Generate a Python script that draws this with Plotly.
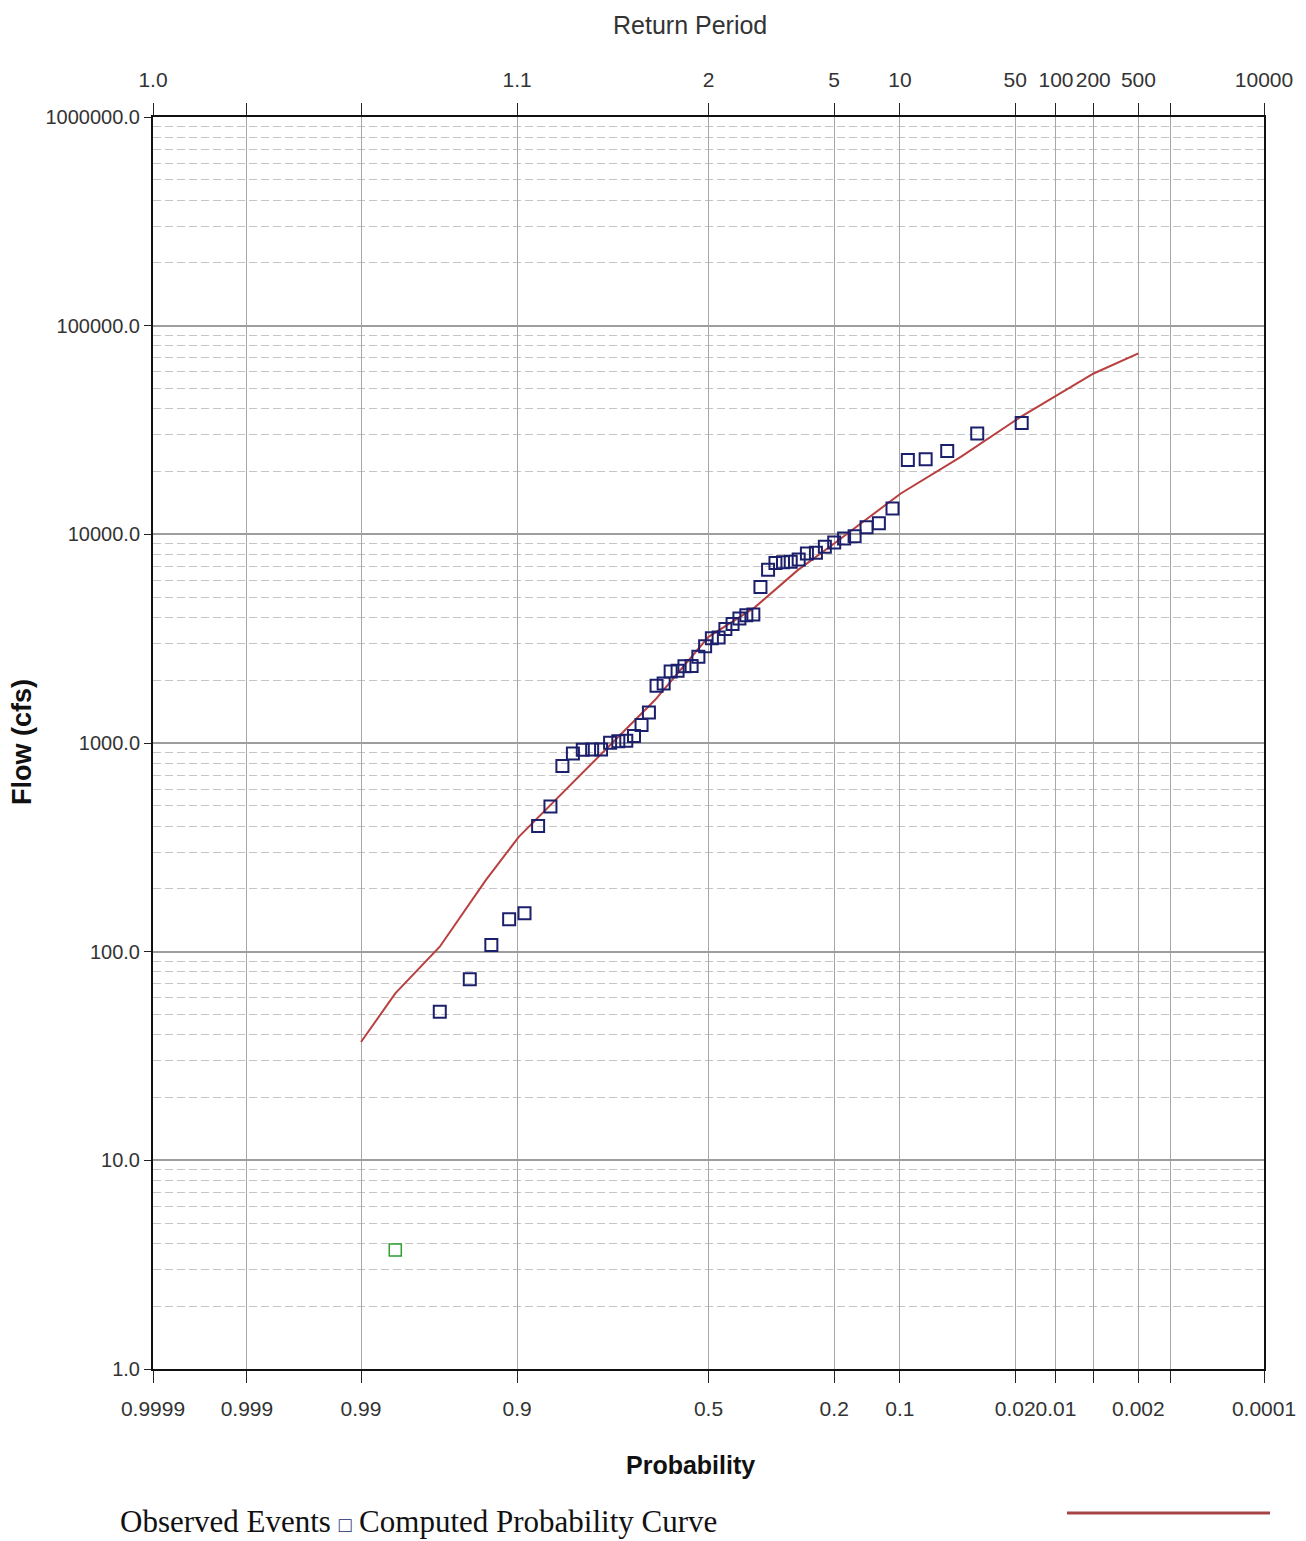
import plotly.graph_objects as go
from statistics import NormalDist

# ---------------- data ----------------
obs_prob = [0.018, 0.036, 0.055, 0.073, 0.091, 0.109, 0.127, 0.145, 0.164, 0.182,
            0.200, 0.218, 0.236, 0.255, 0.273, 0.291, 0.309, 0.327, 0.345, 0.364,
            0.382, 0.400, 0.418, 0.436, 0.455, 0.473, 0.491, 0.509, 0.527, 0.545,
            0.564, 0.582, 0.600, 0.618, 0.636, 0.655, 0.673, 0.691, 0.709, 0.727,
            0.745, 0.764, 0.782, 0.800, 0.818, 0.836, 0.855, 0.873, 0.891, 0.909,
            0.927, 0.945, 0.964]
obs_flow = [34200, 30400, 25100, 22900, 22700, 13300, 11300, 10800, 9800, 9550,
            9140, 8710, 8150, 8100, 7580, 7380, 7350, 7280, 6760, 5600,
            4130, 4100, 3950, 3715, 3515, 3200, 3180, 2910, 2590, 2340,
            2330, 2220, 2200, 1930, 1880, 1400, 1220, 1080, 1025, 1020,
            1002, 932, 930, 928, 891, 775, 496, 400, 153, 143,
            107.6, 73.7, 51.5]

low_prob = [0.982]
low_flow = [3.72]

curve_prob = [0.99, 0.982, 0.964, 0.932, 0.898, 0.837, 0.766, 0.640, 0.5, 0.379,
              0.275, 0.2, 0.099, 0.0456, 0.0183, 0.00496, 0.002]
curve_flow = [36.9, 63.1, 105.6, 220, 355, 573, 875, 1606, 3228, 4455,
              6737, 9040, 15700, 23500, 36560, 59000, 73600]

prob_ticks = [0.9999, 0.999, 0.99, 0.9, 0.5, 0.2, 0.1, 0.02, 0.01, 0.005, 0.002, 0.001, 0.0001]
prob_labels = ['0.9999', '0.999', '0.99', '0.9', '0.5', '0.2', '0.1', '0.02', '0.01', '', '0.002', '', '0.0001']
return_labels = ['1.0', '', '', '1.1', '2', '5', '10', '50', '100', '200', '500', '', '10000']

flow_ticks = [1, 10, 100, 1000, 10000, 100000, 1000000]
flow_labels = ['1.0', '10.0', '100.0', '1000.0', '10000.0', '100000.0', '1000000.0']
flow_minor = [m * d for d in [1, 10, 100, 1000, 10000, 100000] for m in range(2, 10)]

# ---------------- probability scale ----------------
nd = NormalDist()


def zpos(p):
    return nd.inv_cdf(1 - p)


xr = [zpos(0.9999), zpos(0.0001)]
NARROW = "Liberation Sans Narrow, Arial Narrow, Liberation Sans, sans-serif"

fig = go.Figure()

fig.add_trace(go.Scatter(
    x=[zpos(p) for p in curve_prob], y=curve_flow, mode='lines',
    line=dict(color='#b8403f', width=2),
    name='Computed Probability Curve', hoverinfo='skip'))

fig.add_trace(go.Scatter(
    x=[zpos(p) for p in obs_prob], y=obs_flow, mode='markers',
    marker=dict(symbol='square-open', size=12, color='#1c1f6b', line=dict(width=2)),
    name='Observed Events'))

fig.add_trace(go.Scatter(
    x=[zpos(p) for p in low_prob], y=low_flow, mode='markers',
    marker=dict(symbol='square-open', size=12, color='#2e9e2e', line=dict(width=1.5)),
    name='Low outlier'))

# invisible trace to hold the top (return period) axis
fig.add_trace(go.Scatter(x=xr, y=[1, 1], xaxis='x2', mode='markers',
                         marker=dict(opacity=0), hoverinfo='skip', showlegend=False))

# page has an 8px body margin, so the figure is sized/offset to compensate
fig.update_layout(
    width=1298, height=1533,
    margin=dict(l=145, r=42, t=109, b=172, autoexpand=False),
    paper_bgcolor='white', plot_bgcolor='white',
    showlegend=False,
    xaxis=dict(
        range=xr, tickmode='array', automargin=False,
        tickvals=[zpos(p) for p in prob_ticks], ticktext=prob_labels,
        tickangle=0, ticks='outside', ticklen=12, tickcolor='#222', tickwidth=1,
        ticklabelstandoff=8,
        tickfont=dict(family=NARROW, size=21, color='#333'),
        showgrid=True, gridcolor='#a8a8a8', gridwidth=1,
        showline=True, linecolor='#111', linewidth=2,
        zeroline=False),
    xaxis2=dict(
        range=xr, overlaying='x', side='top', anchor='y', tickmode='array', automargin=False,
        tickvals=[zpos(p) for p in prob_ticks], ticktext=return_labels,
        tickangle=0, ticks='outside', ticklen=12, tickcolor='#222', tickwidth=1,
        ticklabelstandoff=8,
        tickfont=dict(family=NARROW, size=21, color='#333'),
        showgrid=False, showline=True, linecolor='#111', linewidth=2,
        zeroline=False),
    yaxis=dict(
        type='log', range=[0, 6], tickmode='array', automargin=False,
        tickvals=flow_ticks, ticktext=flow_labels,
        ticks='outside', ticklen=7, tickcolor='#222',
        tickfont=dict(family=NARROW, size=20, color='#333'),
        showgrid=True, gridcolor='#9e9e9e', gridwidth=1.5,
        minor=dict(tickmode='array', tickvals=flow_minor, showgrid=True,
                   gridcolor='#c4c4c4', griddash='8px,4px', gridwidth=1, ticks=''),
        showline=True, linecolor='#111', linewidth=2, mirror=True,
        zeroline=False),
    annotations=[
        dict(text='Return Period', xref='paper', yref='paper',
             x=(690 - 153) / 1111, y=(1369 - 25) / 1252, showarrow=False,
             xanchor='center', yanchor='middle',
             font=dict(family=NARROW, size=25, color='#333')),
        dict(text='<b>Probability</b>', xref='paper', yref='paper',
             x=(690 - 153) / 1111, y=(1369 - 1465) / 1252, showarrow=False,
             xanchor='center', yanchor='middle',
             font=dict(family=NARROW, size=25, color='#111')),
        dict(text='<b>Flow (cfs)</b>', xref='paper', yref='paper',
             x=(22 - 153) / 1111, y=(1369 - 742) / 1252, showarrow=False,
             textangle=-90, xanchor='center', yanchor='middle',
             font=dict(family='Liberation Sans, Arial, sans-serif', size=27, color='#111')),
        dict(text="Observed Events <span style='font-size:21px;color:#1c2a6e'>\u25a1</span> Computed Probability Curve",
             xref='paper', yref='paper',
             x=(118 - 153) / 1111, y=(1369 - 1521) / 1252, showarrow=False,
             xanchor='left', yanchor='middle',
             font=dict(family='Liberation Serif, Times New Roman, serif', size=31, color='#111')),
    ],
    shapes=[
        dict(type='line', xref='paper', yref='paper',
             x0=(1067 - 153) / 1111, x1=(1270 - 153) / 1111,
             y0=(1369 - 1513) / 1252, y1=(1369 - 1513) / 1252,
             line=dict(color='#a54444', width=3)),
    ],
)

fig.write_html("out.html")
